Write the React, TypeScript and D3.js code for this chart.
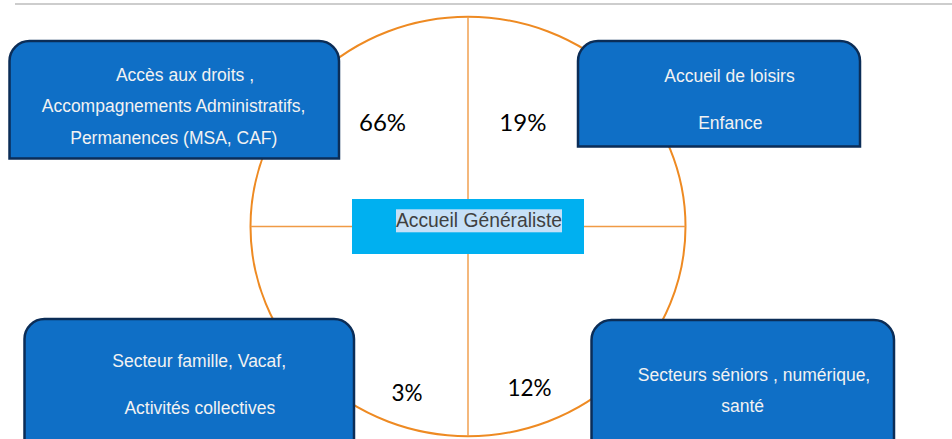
import React from "react";
import * as d3 from "d3";

// ---- Data ----
const centerLabel = "Accueil Généraliste";
const sectorLabels: string[][] = [
  ["Accès aux droits ,", "Accompagnements Administratifs,", "Permanences (MSA, CAF)"],
  ["Accueil de loisirs", "Enfance"],
  ["Secteur famille, Vacaf,", "Activités collectives"],
  ["Secteurs séniors , numérique,", "santé"],
];
const sectorShares = [66, 19, 3, 12];

// ---- Layout ----
const W = 952;
const H = 439;
const circle = { cx: 468, cy: 226.5, rx: 217.5, ry: 209.7 };
const centerBox = { x: 352, y: 199, w: 232, h: 55 };
const boxes = [
  { x: 9.5, y: 41, w: 329.5, h: 117.5, lineY: [81, 112, 144], lineX: [185, 173.5, 173.8] },
  { x: 578, y: 41, w: 282, h: 105.5, lineY: [81.7, 128.7], lineX: [729.5, 730.3] },
  { x: 24.5, y: 319, w: 329.5, h: 140, lineY: [366.7, 414], lineX: [199.2, 199.8] },
  { x: 591.5, y: 320, w: 302.5, h: 140, lineY: [381, 411.7], lineX: [754, 742.7] },
];
const pctPos = [
  { x: 359, y: 131, size: 24 },
  { x: 499.3, y: 131, size: 24 },
  { x: 391.5, y: 401, size: 22.5 },
  { x: 507.5, y: 395.7, size: 22.5 },
];

function topRoundedRect(x: number, y: number, w: number, h: number, r: number) {
  const p = d3.path();
  p.moveTo(x, y + h);
  p.lineTo(x, y + r);
  p.arcTo(x, y, x + r, y, r);
  p.lineTo(x + w - r, y);
  p.arcTo(x + w, y, x + w, y + r, r);
  p.lineTo(x + w, y + h);
  p.closePath();
  return p.toString();
}

const fmtPct = (v: number) => d3.format("d")(v) + "%";

export default function App() {
  return (
    <svg
      width={W}
      height={H}
      style={{ position: "absolute", left: 0, top: 0, background: "#fff" }}
    >
      <line x1={15} x2={W} y1={4} y2={4} stroke="#BDBDBD" strokeWidth={1.6} />

      <ellipse
        cx={circle.cx}
        cy={circle.cy}
        rx={circle.rx}
        ry={circle.ry}
        fill="none"
        stroke="#EE8A22"
        strokeWidth={2}
      />
      <line
        x1={circle.cx}
        x2={circle.cx}
        y1={circle.cy - circle.ry}
        y2={circle.cy + circle.ry}
        stroke="#F09A45"
        strokeWidth={1.4}
      />
      <line
        x1={circle.cx - circle.rx}
        x2={circle.cx + circle.rx}
        y1={circle.cy}
        y2={circle.cy}
        stroke="#F09A45"
        strokeWidth={1.4}
      />

      <rect x={centerBox.x} y={centerBox.y} width={centerBox.w} height={centerBox.h} fill="#00B0F0" />
      <rect x={396} y={209.3} width={166} height={23} fill="#C6E0F7" />
      <text
        x={479}
        y={227.3}
        textAnchor="middle"
        fontFamily="'Liberation Sans', Arial, sans-serif"
        fontSize={19.3}
        fill="#404040"
      >
        {centerLabel}
      </text>

      {boxes.map((b, i) => (
        <g key={i}>
          <path
            d={topRoundedRect(b.x, b.y, b.w, b.h, 20)}
            fill="#0F6FC6"
            stroke="#0B2D57"
            strokeWidth={2.5}
          />
          {sectorLabels[i].map((t, j) => (
            <text
              key={j}
              x={b.lineX[j]}
              y={b.lineY[j]}
              textAnchor="middle"
              fontFamily="'Liberation Sans', Arial, sans-serif"
              fontSize={17.5}
              fill="#F2F2F2"
            >
              {t}
            </text>
          ))}
        </g>
      ))}

      {sectorShares.map((v, i) => (
        <text
          key={i}
          x={pctPos[i].x}
          y={pctPos[i].y}
          fontFamily="Lato, 'Open Sans', sans-serif"
          fontSize={pctPos[i].size}
          fill="#000"
        >
          {fmtPct(v)}
        </text>
      ))}
    </svg>
  );
}
